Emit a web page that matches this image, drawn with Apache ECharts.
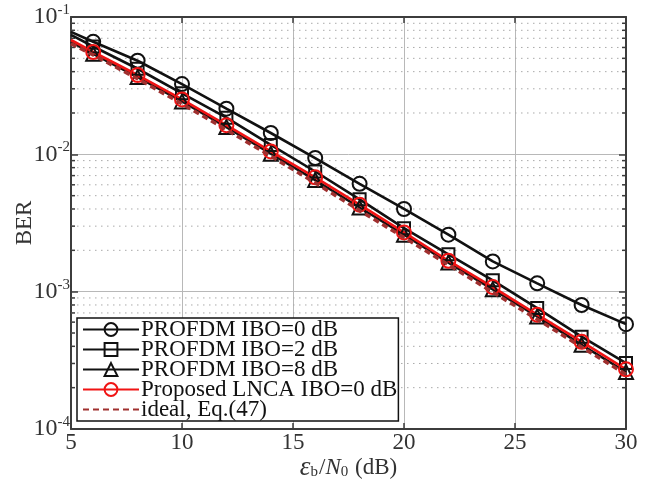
<!DOCTYPE html>
<html><head><meta charset="utf-8">
<script src="https://cdn.jsdelivr.net/npm/echarts@6/dist/echarts.min.js"></script>
<style>html,body{margin:0;padding:0;background:#fff}#c{width:667px;height:485px}</style>
</head><body><div id="c"></div>
<script>
const xValues = [5, 6, 8, 10, 12, 14, 16, 18, 20, 22, 24, 26, 28, 30];
const berIBO0 = [0.078, 0.066, 0.048, 0.0325, 0.0215, 0.0143, 0.0094, 0.0061, 0.0040, 0.0026, 0.00166, 0.00115, 0.00080, 0.00058];
const berIBO2 = [0.074, 0.061, 0.042, 0.0278, 0.0185, 0.0117, 0.0075, 0.0047, 0.0029, 0.00187, 0.00121, 0.00076, 0.00047, 0.000302];
const berIBO8 = [0.066, 0.054, 0.0365, 0.0243, 0.0158, 0.0101, 0.0065, 0.0041, 0.0026, 0.00163, 0.00104, 0.00066, 0.00041, 0.00026];
const berLNCA = [0.068, 0.0556, 0.0378, 0.0251, 0.0163, 0.0105, 0.0068, 0.0043, 0.0027, 0.00168, 0.00108, 0.00068, 0.000432, 0.000272];
const berIdeal = [0.064, 0.053, 0.0355, 0.0233, 0.0151, 0.0097, 0.0062, 0.0039, 0.00248, 0.00157, 0.00099, 0.00063, 0.000395, 0.00025];
const seriesNames = ['PROFDM IBO=0 dB', 'PROFDM IBO=2 dB', 'PROFDM IBO=8 dB', 'Proposed LNCA IBO=0 dB', 'ideal, Eq.(47)'];
const xTickValues = [5, 10, 15, 20, 25, 30];
const yDecadeExponents = [-4, -3, -2, -1];
const minorMultipliers = [2, 3, 4, 5, 6, 7, 8, 9];

const FONT = 'Liberation Serif';
const AX = '#3c3c3c';
const minorVals = [];
yDecadeExponents.slice(0, 3).forEach(e => minorMultipliers.forEach(m => minorVals.push(m * Math.pow(10, e))));

function pts(arr) {
  return xValues.map((x, i) => x === 5 ? { value: [x, arr[i]], symbol: 'none' } : [x, arr[i]]);
}
function mk(name, arr, sym, color, width) {
  return {
    name, type: 'line', data: pts(arr), symbol: sym, symbolSize: sym === 'rect' ? 12 : 14,
    lineStyle: { color, width },
    itemStyle: { color: 'transparent', borderColor: color, borderWidth: 2 },
    emphasis: { disabled: true }, z: 3
  };
}
const chart = echarts.init(document.getElementById('c'), null, { renderer: 'canvas' });
chart.setOption({
  animation: false,
  backgroundColor: '#fff',
  grid: { left: 71, right: 41, top: 17, bottom: 56, containLabel: false, outerBoundsMode: 'none' },
  xAxis: [{
    type: 'value', min: 5, max: 30, interval: 5,
    axisLine: { show: true, lineStyle: { color: AX, width: 2 } },
    axisTick: { show: true, inside: true, length: 6, lineStyle: { color: AX, width: 1.5 } },
    axisLabel: { margin: 2, fontFamily: FONT, fontSize: 23, color: '#333',
      formatter: v => xTickValues.includes(v) ? String(v) : '' },
    splitLine: { show: true, lineStyle: { color: '#b8b8b8', width: 1 } },
    name: '{e|ε}{s|b}{t|/}{n|N}{s|0}{t| (dB)}',
    nameLocation: 'middle', nameGap: 25, nameMoveOverlap: false,
    nameTextStyle: { fontFamily: FONT, fontSize: 23, color: '#333',
      rich: {
        e: { fontFamily: FONT, fontSize: 27, fontStyle: 'italic', color: '#333' },
        n: { fontFamily: FONT, fontSize: 23, fontStyle: 'italic', color: '#333' },
        t: { fontFamily: FONT, fontSize: 23, color: '#333' },
        s: { fontFamily: FONT, fontSize: 15, color: '#333', padding: [10, 1, 0, 0] }
      } }
  }, {
    type: 'value', position: 'top', min: 5, max: 30, interval: 5,
    axisLine: { show: true, lineStyle: { color: AX, width: 2 } },
    axisTick: { show: true, inside: true, length: 6, lineStyle: { color: AX, width: 1.5 } },
    axisLabel: { show: false }, splitLine: { show: false }
  }],
  yAxis: [{
    type: 'log', logBase: 10, min: 1e-4, max: 1e-1,
    axisLine: { show: true, lineStyle: { color: AX, width: 2 } },
    axisTick: { show: true, inside: true, length: 7, lineStyle: { color: AX, width: 1.5 } },
    minorTick: { show: false },
    axisLabel: { margin: 1, fontFamily: FONT, color: '#333',
      formatter: v => '{b|10}{s|' + Math.round(Math.log10(v)) + '}',
      rich: {
        b: { fontFamily: FONT, fontSize: 24, color: '#333' },
        s: { fontFamily: FONT, fontSize: 15, color: '#333', padding: [0, 0, 14, 0] }
      } },
    splitLine: { show: true, lineStyle: { color: '#b8b8b8', width: 1 } },
    name: 'BER', nameLocation: 'middle', nameGap: 35, nameMoveOverlap: false,
    nameTextStyle: { fontFamily: FONT, fontSize: 23, color: '#333' }
  }, {
    type: 'log', logBase: 10, min: 1e-4, max: 1e-1, position: 'right',
    axisLine: { show: true, lineStyle: { color: AX, width: 2 } },
    axisTick: { show: true, inside: true, length: 7, lineStyle: { color: AX, width: 1.5 } },
    axisLabel: { show: false }, splitLine: { show: false }
  }],
  legend: {
    data: seriesNames.map((n, i) => i === 4 ? { name: n, itemStyle: { opacity: 0 } } : { name: n }),
    orient: 'vertical', left: 77, top: 318,
    itemWidth: 56, itemHeight: 16, itemGap: -3,
    padding: [0, 1, 0, 5],
    backgroundColor: '#fff', borderColor: '#111', borderWidth: 1.5, borderRadius: 0,
    textStyle: { fontFamily: FONT, fontSize: 23, color: '#111', padding: [0, 0, 0, -3] },
    selectedMode: false
  },
  series: [
    {
      type: 'custom', silent: true, z: 1, xAxisIndex: 0, yAxisIndex: 0,
      data: minorVals.map(v => [5, v]),
      renderItem: (params, api) => {
        const v = api.value(1);
        const a = api.coord([5, v]);
        const b = api.coord([30, v]);
        return { type: 'group', children: [
          { type: 'line', shape: { x1: a[0], y1: a[1], x2: b[0], y2: b[1] }, style: { stroke: '#aaaaaa', lineWidth: 1, lineDash: [1.5, 4.5] } },
          { type: 'line', shape: { x1: a[0], y1: a[1], x2: a[0] + 4, y2: a[1] }, style: { stroke: AX, lineWidth: 1.5 } },
          { type: 'line', shape: { x1: b[0] - 4, y1: b[1], x2: b[0], y2: b[1] }, style: { stroke: AX, lineWidth: 1.5 } }
        ] };
      }
    },
    mk(seriesNames[0], berIBO0, 'circle', '#111', 2.6),
    mk(seriesNames[1], berIBO2, 'rect', '#111', 2.6),
    mk(seriesNames[2], berIBO8, 'triangle', '#111', 2.6),
    mk(seriesNames[3], berLNCA, 'circle', '#f01414', 2.6),
    {
      name: seriesNames[4], type: 'line', data: pts(berIdeal), symbol: 'none', showSymbol: false,
      lineStyle: { color: '#a0302f', width: 3.5, type: [6, 4] },
      itemStyle: { color: '#a0302f' }, emphasis: { disabled: true }, z: 4
    }
  ]
});
</script></body></html>
